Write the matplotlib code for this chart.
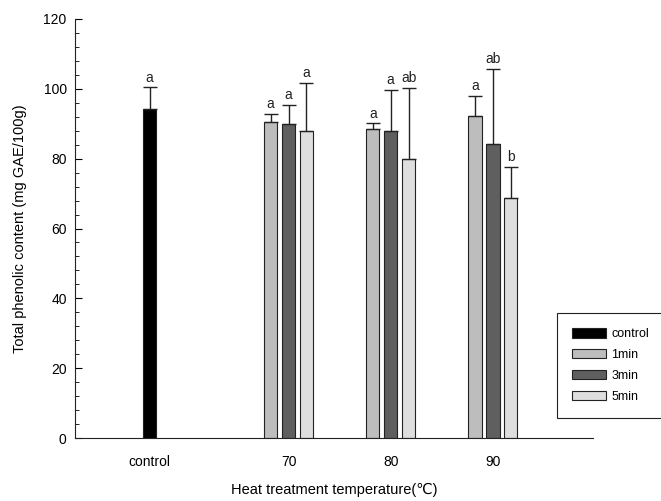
import matplotlib.pyplot as plt
from matplotlib.ticker import MultipleLocator

plt.rcParams['font.family'] = ['Liberation Sans', 'DejaVu Sans']

# data
groups = ['control', '70', '80', '90']
group_pos = [56.4, 70, 80, 90]
series = ['1min', '3min', '5min']
control_mean = 94.3
control_err = 6.1
control_letter = 'a'
means = {
    '1min': [90.5, 88.6, 92.2],
    '3min': [89.8, 87.9, 84.2],
    '5min': [87.9, 79.9, 68.6],
}
errs = {
    '1min': [2.3, 1.5, 5.7],
    '3min': [5.7, 11.8, 21.6],
    '5min': [13.7, 20.4, 9.0],
}
letters = {
    '1min': ['a', 'a', 'a'],
    '3min': ['a', 'a', 'ab'],
    '5min': ['a', 'ab', 'b'],
}
colors = {'control': '#000000', '1min': '#bdbdbd', '3min': '#5f5f5f', '5min': '#dedede'}

fig = plt.figure(figsize=(6.61, 5.01), dpi=100)
ax = fig.add_axes([75/661, 63/501, (593-75)/661, (438-19)/501])

w = 1.3
step = 1.75
ekw = dict(elinewidth=1, capsize=5, capthick=1, ecolor='#222222')
fs = 10

ax.bar(group_pos[0], control_mean, w, color=colors['control'], edgecolor='#222222',
       linewidth=0.8, label='control')
ax.errorbar(group_pos[0], control_mean, yerr=[[0], [control_err]], fmt='none', **ekw)
ax.text(group_pos[0], control_mean + control_err + 0.8, control_letter, ha='center',
        va='bottom', fontsize=fs, color='#222222')

for k, s in enumerate(series):
    xs = [p + (k - 1) * step for p in group_pos[1:]]
    ax.bar(xs, means[s], w, color=colors[s], edgecolor='#222222', linewidth=0.8, label=s)
    ax.errorbar(xs, means[s], yerr=[[0] * 3, errs[s]], fmt='none', **ekw)
    for x, m, e, l in zip(xs, means[s], errs[s], letters[s]):
        ax.text(x, m + e + 0.8, l, ha='center', va='bottom', fontsize=fs, color='#222222')

ax.set_xlim(49.1, 99.8)
ax.set_ylim(0, 120)
ax.set_xticks(group_pos)
ax.set_xticklabels(groups, fontsize=fs)
ax.tick_params(axis='x', length=0, pad=12)
ax.yaxis.set_major_locator(MultipleLocator(20))
ax.yaxis.set_minor_locator(MultipleLocator(4))
ax.tick_params(axis='y', which='major', direction='in', length=5, labelsize=fs, pad=6)
ax.tick_params(axis='y', which='minor', direction='in', length=3)
for sp in ['top', 'right']:
    ax.spines[sp].set_visible(False)
ax.spines['left'].set_color('#222222')
ax.spines['bottom'].set_color('#222222')

ax.set_xlabel('Heat treatment temperature(℃)', fontsize=10.5, labelpad=10)
ax.set_ylabel('Total phenolic content (mg GAE/100g)', fontsize=10.5, labelpad=12)

leg = ax.legend(loc='upper left', bbox_to_anchor=(557/661, (501-313)/501),
                bbox_transform=fig.transFigure, fontsize=9, fancybox=False,
                edgecolor='#222222', handlelength=2.7, handleheight=0.8,
                labelspacing=0.7, borderpad=1.2, borderaxespad=0,
                handletextpad=0.45, framealpha=1)
leg.get_frame().set_linewidth(0.8)

fig.savefig('out.png', dpi=100)
